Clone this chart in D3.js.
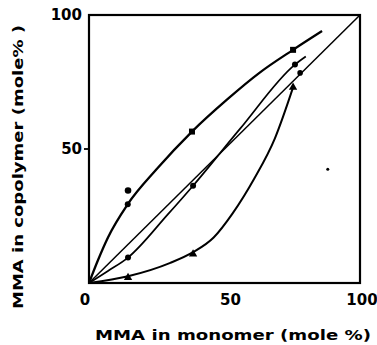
<!DOCTYPE html>
<html><head><meta charset="utf-8">
<script src="https://cdn.jsdelivr.net/npm/d3@7"></script>
<style>html,body{margin:0;padding:0;background:#fff;}svg{display:block;}</style>
</head><body><svg id="c" width="377" height="345"></svg>
<script>
// Axis ticks
const xTicks = [0, 50, 100];
const yTicks = [50, 100];
// Fitted curves: [monomer %, copolymer %]
const curveTop = [[0,0],[3.3,8.5],[7,17],[14.3,29.4],[25,42.5],[38,56.5],[51,68.5],[63,78.5],[75.3,87],[86,94]];
const curveMid = [[0,0],[7,4.5],[14.4,9.5],[29,25.5],[38.4,36.3],[55.7,57.5],[76,81.5],[80,84.5]];
const curveLow = [[0,0],[14.4,2.5],[30,7.5],[38.4,11.5],[46,17],[53,26],[61,39],[68.6,54],[75.3,73]];
const diagonal = [[0,0],[100,100]];
// Measured points
const ptsTop = [[14.3,29.4],[38,56.5],[75.3,87]];
const ptsTopExtra = [[14.4,34.5]];
const ptsMid = [[14.4,9.5],[38.4,36.3],[76,81.5]];
const ptsDiag = [[77.9,78.4]];
const ptsLow = [[14.4,2],[38.4,10.8],[75.3,73]];
const stray = [[88.1,42.4]];

const svg = d3.select("#c");
const x = d3.scaleLinear().domain([0,100]).range([89,360]);
const y = d3.scaleLinear().domain([0,100]).range([283,15]);
const font = "'DejaVu Sans', sans-serif";

// frame
svg.append("rect").attr("x",x(0)).attr("y",y(100)).attr("width",x(100)-x(0)).attr("height",y(0)-y(100))
  .attr("fill","none").attr("stroke","#000").attr("stroke-width",2.2);

// y tick at 50
svg.append("line").attr("x1",x(0)-5).attr("x2",x(0)).attr("y1",y(50)).attr("y2",y(50)).attr("stroke","#000").attr("stroke-width",1.8);

// tick labels
svg.selectAll(".yl").data(yTicks).enter().append("text")
  .attr("x",x(0)-7).attr("y",d=>y(d)).attr("dy","0.36em").attr("text-anchor","end")
  .attr("font-family",font).attr("font-size",15).attr("font-weight","bold").text(d=>d);
svg.selectAll(".xl").data(xTicks).enter().append("text")
  .attr("x",d=>d===0?x(0)-4:(d===100?x(d)+2:x(d)+6)).attr("y",y(0)+17).attr("dy","0.36em").attr("text-anchor","middle")
  .attr("font-family",font).attr("font-size",15).attr("font-weight","bold").text(d=>d);

// axis titles
svg.append("text").attr("x",233).attr("y",335).attr("dy","0.36em").attr("text-anchor","middle")
  .attr("font-family",font).attr("font-size",14).attr("font-weight","bold")
  .attr("textLength",276).attr("lengthAdjust","spacingAndGlyphs").text("MMA in monomer (mole %)");
svg.append("text").attr("transform","translate(18,167) rotate(-90)").attr("dy","0.36em").attr("text-anchor","middle")
  .attr("font-family",font).attr("font-size",14).attr("font-weight","bold")
  .attr("textLength",284).attr("lengthAdjust","spacingAndGlyphs").text("MMA in copolymer (mole% )");

const line = d3.line().x(d=>x(d[0])).y(d=>y(d[1])).curve(d3.curveMonotoneX);
const lin = d3.line().x(d=>x(d[0])).y(d=>y(d[1]));

svg.append("path").attr("d",lin(diagonal)).attr("fill","none").attr("stroke","#000").attr("stroke-width",1.5);
svg.append("path").attr("d",line(curveTop)).attr("fill","none").attr("stroke","#000").attr("stroke-width",2.3);
svg.append("path").attr("d",line(curveMid)).attr("fill","none").attr("stroke","#000").attr("stroke-width",1.7);
svg.append("path").attr("d",line(curveLow)).attr("fill","none").attr("stroke","#000").attr("stroke-width",2);

function dots(data, r){
  svg.append("g").selectAll("circle").data(data).enter().append("circle")
    .attr("cx",d=>x(d[0])).attr("cy",d=>y(d[1])).attr("r",r).attr("fill","#000");
}
function squares(data, s){
  svg.append("g").selectAll("rect").data(data).enter().append("rect")
    .attr("x",d=>x(d[0])-s/2).attr("y",d=>y(d[1])-s/2).attr("width",s).attr("height",s)
    .attr("fill","#000");
}
const tri = d3.symbol().type(d3.symbolTriangle).size(30);
function tris(data){
  svg.append("g").selectAll("path").data(data).enter().append("path")
    .attr("d",tri).attr("transform",d=>`translate(${x(d[0])},${y(d[1])})`).attr("fill","#000");
}
dots([ptsTop[0]],3);
squares(ptsTop.slice(1),6);
dots(ptsTopExtra,3.3);
dots(ptsMid,3);
dots(ptsDiag,2.8);
tris(ptsLow);
dots(stray,1.5);
</script></body></html>
